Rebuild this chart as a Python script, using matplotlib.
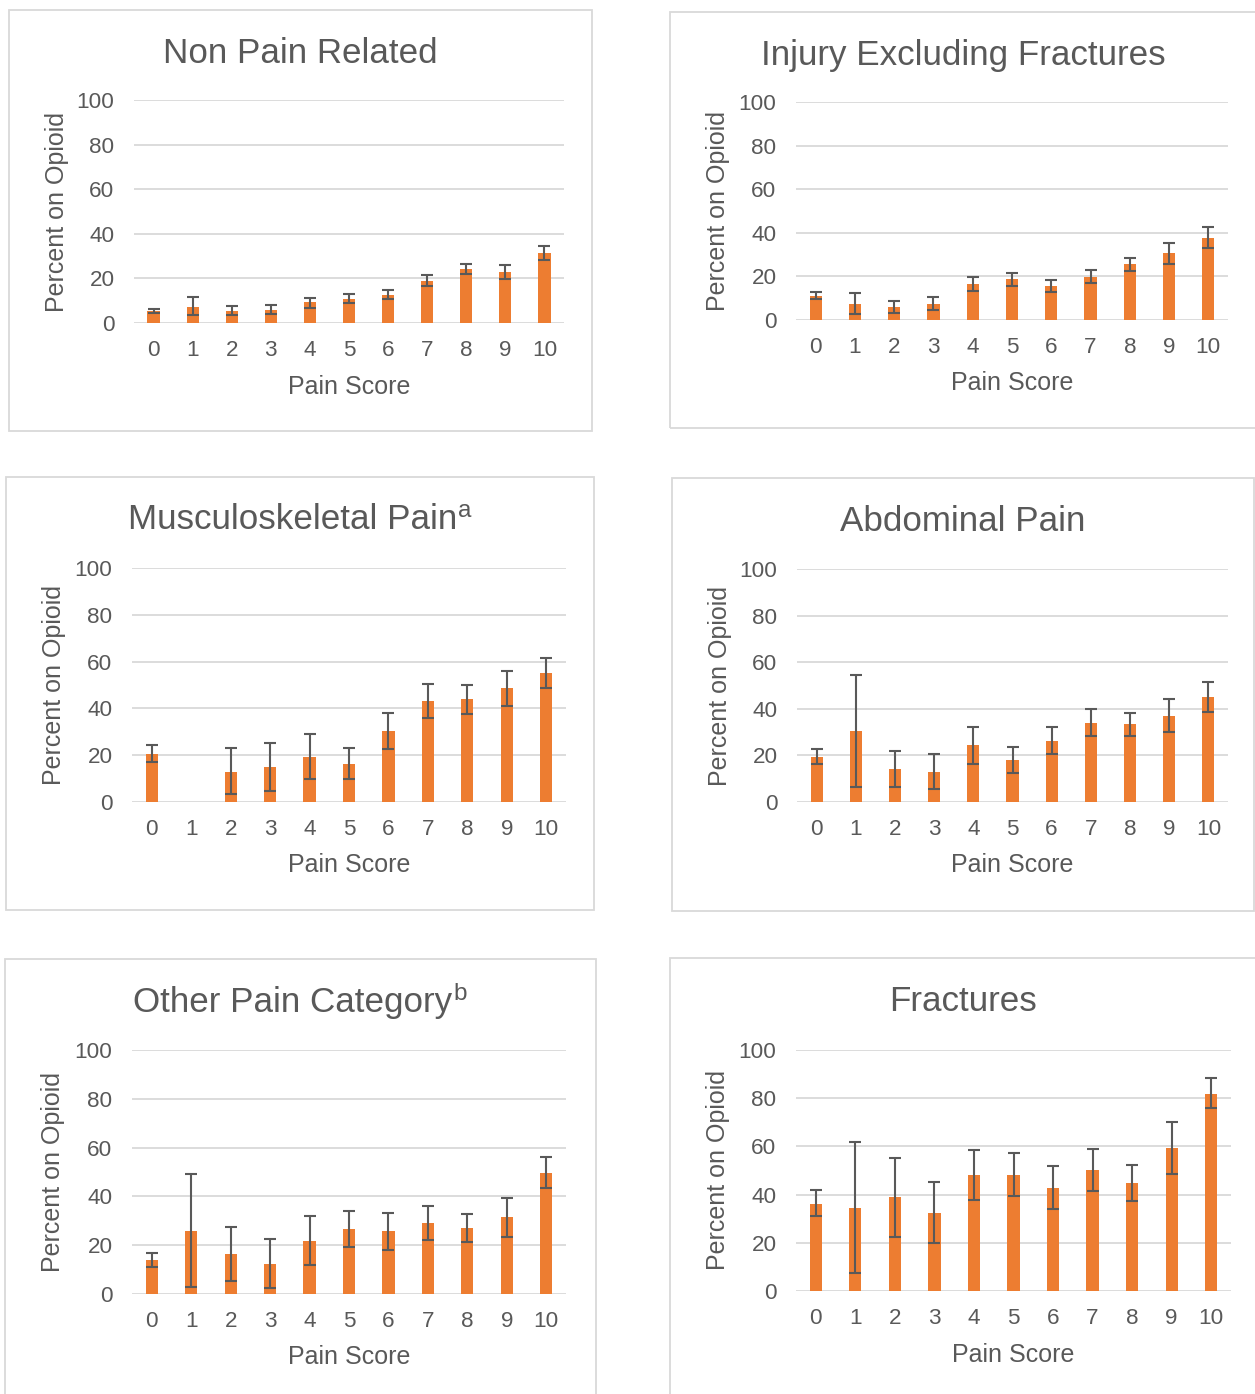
import numpy as np
import matplotlib
matplotlib.use("Agg")
import matplotlib.pyplot as plt
from matplotlib.patches import Rectangle

nan = np.nan
pain_scores = [str(i) for i in range(11)]

non_pain = [5.5, 7.3, 5.6, 5.9, 9.2, 10.7, 12.5, 18.9, 24.1, 22.9, 31.2]
non_pain_lo = [4.5, 3.5, 3.7, 4.0, 6.9, 8.8, 10.7, 16.6, 22.1, 19.7, 28.2]
non_pain_hi = [6.4, 11.5, 7.7, 8.1, 11.4, 12.8, 14.8, 21.5, 26.6, 26.0, 34.4]

injury = [10.9, 7.5, 5.8, 7.2, 16.5, 18.6, 15.5, 19.7, 25.7, 30.6, 37.7]
injury_lo = [9.7, 2.8, 3.2, 4.5, 13.1, 15.5, 12.9, 16.9, 22.6, 25.8, 33.2]
injury_hi = [12.8, 12.5, 8.9, 10.5, 19.8, 21.7, 18.3, 22.8, 28.6, 35.5, 42.5]

musculo = [20.7, nan, 13.0, 15.0, 19.4, 16.4, 30.3, 43.3, 43.9, 48.6, 55.0]
musculo_lo = [17.0, nan, 3.3, 4.7, 9.9, 9.9, 22.6, 36.1, 37.7, 41.0, 48.7]
musculo_hi = [24.4, nan, 23.0, 25.1, 29.0, 23.1, 38.1, 50.6, 50.0, 56.0, 61.4]

abdominal = [19.4, 30.6, 14.0, 13.0, 24.3, 17.9, 26.3, 34.0, 33.3, 37.0, 44.9]
abdominal_lo = [16.3, 6.4, 6.4, 5.4, 16.1, 12.4, 20.6, 28.4, 28.4, 30.1, 38.7]
abdominal_hi = [22.7, 54.7, 21.7, 20.4, 32.4, 23.4, 32.0, 39.7, 38.4, 44.0, 51.4]

other = [14.0, 26.0, 16.3, 12.5, 21.9, 26.6, 25.8, 28.9, 27.0, 31.4, 49.6]
other_lo = [11.0, 3.0, 5.3, 2.3, 11.9, 19.2, 18.2, 22.3, 21.4, 23.3, 43.4]
other_hi = [17.0, 49.0, 27.4, 22.5, 32.1, 34.2, 33.4, 35.9, 32.9, 39.5, 56.2]

fractures = [36.3, 34.5, 38.9, 32.4, 48.1, 48.1, 42.6, 50.2, 44.7, 59.3, 81.9]
fractures_lo = [31.0, 7.6, 22.5, 20.0, 37.8, 39.3, 33.9, 41.7, 37.5, 48.6, 75.9]
fractures_hi = [41.9, 61.7, 55.3, 45.1, 58.5, 57.1, 51.7, 58.9, 52.4, 70.2, 88.3]

titles = ["Non Pain Related", "Injury Excluding Fractures",
          "Musculoskeletal Pain", "Abdominal Pain",
          "Other Pain Category", "Fractures"]
title_sups = ["", "", "a", "", "b", ""]
x_label = "Pain Score"
y_label = "Percent on Opioid"
y_ticks = [0, 20, 40, 60, 80, 100]

plt.rcParams['font.family'] = ['Liberation Sans', 'DejaVu Sans']

W, H = 1255, 1394
fig = plt.figure(figsize=(W / 100, H / 100), dpi=100)
renderer = fig.canvas.get_renderer()
TXT = '#595959'
GRID = '#D9D9D9'
ORANGE = '#ED7D31'

def fx(x):
    return x / W

def fy(y):
    return 1 - y / H

# panel layout in pixels: box (l, t, r, b), plot area (l, t, r, b), title (cx, baseline)
panels = [
    (non_pain, non_pain_lo, non_pain_hi, (9, 10, 592, 431), (134, 100, 564, 323), (300, 63)),
    (injury, injury_lo, injury_hi, (670, 12, 1262, 428), (796, 102, 1228, 320), (963, 65)),
    (musculo, musculo_lo, musculo_hi, (6, 477, 594, 910), (132, 568, 566, 802), (300, 529)),
    (abdominal, abdominal_lo, abdominal_hi, (672, 478, 1254, 911), (797, 569, 1228, 802), (963, 531)),
    (other, other_lo, other_hi, (5, 959, 596, 1400), (132, 1050, 566, 1294), (300, 1012)),
    (fractures, fractures_lo, fractures_hi, (670, 958, 1262, 1400), (796, 1050, 1231, 1291), (963, 1011)),
]

x = np.arange(len(pain_scores))
for i, (vals, lo, hi, box, area, tpos) in enumerate(panels):
    bl, bt, br, bb = box
    fig.patches.append(Rectangle((fx(bl), fy(bb)), fx(br - bl), (bb - bt) / H,
                                 transform=fig.transFigure, fill=False,
                                 edgecolor=GRID, linewidth=1.3, zorder=0))
    al, at, ar, ab = area
    ax = fig.add_axes([fx(al), fy(ab), fx(ar - al), (ab - at) / H])
    v = np.array(vals, dtype=float)
    l = np.array(lo, dtype=float)
    h = np.array(hi, dtype=float)
    ax.bar(x, v, width=0.31, color=ORANGE, zorder=2)
    ax.errorbar(x, v, yerr=[v - l, h - v], fmt='none', ecolor=TXT,
                elinewidth=1.5, capsize=4.6, capthick=1.5, zorder=3)
    ax.set_xlim(-0.5, 10.5)
    ax.set_ylim(0, 100)
    ax.set_yticks(y_ticks)
    ax.set_xticks(x)
    ax.set_xticklabels(pain_scores)
    for s in ax.spines.values():
        s.set_visible(False)
    ax.yaxis.grid(True, color=GRID, linewidth=1.3, zorder=0)
    ax.set_axisbelow(True)
    ax.tick_params(axis='both', length=0, labelsize=16.2, colors=TXT)
    ax.tick_params(axis='y', pad=14)
    ax.tick_params(axis='x', pad=12.5)
    ax.set_xlabel(x_label, fontsize=18, color=TXT)
    ax.set_ylabel(y_label, fontsize=18, color=TXT)
    ax.xaxis.set_label_coords(0.5, -63.5 / (ab - at), transform=ax.transAxes)
    ax.xaxis.label.set_verticalalignment('center')
    ax.yaxis.set_label_coords(-(al - (bl + 48)) / (ar - al), 0.5)
    ax.yaxis.label.set_verticalalignment('center')
    ax.set_facecolor('none')

    cx, by = tpos
    sup = title_sups[i]
    t_main = fig.text(0, fy(by), titles[i], fontsize=25.2, color=TXT,
                      ha='left', va='baseline')
    w_main = t_main.get_window_extent(renderer).width
    w_sup = 0.0
    t_sup = None
    if sup:
        t_sup = fig.text(0, fy(by - 12), sup, fontsize=17.5, color=TXT,
                         ha='left', va='baseline')
        w_sup = t_sup.get_window_extent(renderer).width + 1
    left = cx - (w_main + w_sup) / 2
    t_main.set_x(fx(left))
    if t_sup is not None:
        t_sup.set_x(fx(left + w_main + 1))

fig.savefig('out.png', dpi=100)
